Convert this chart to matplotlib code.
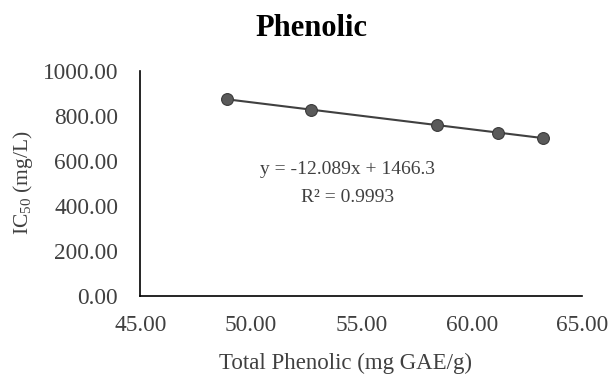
import numpy as np
import matplotlib
matplotlib.use("Agg")
import matplotlib.pyplot as plt

plt.rcParams['font.family'] = ['Liberation Serif', 'DejaVu Serif']
plt.rcParams['mathtext.fontset'] = 'custom'
plt.rcParams['mathtext.rm'] = 'Liberation Serif'
plt.rcParams['mathtext.it'] = 'Liberation Serif:italic'

# === data ===
phenolic = [48.9, 52.7, 58.4, 61.2, 63.2]      # mg GAE/g
ic50 = [877, 829, 761, 727, 702]               # mg/L
slope, intercept = -12.089, 1466.3
r2 = 0.9993
xticks = [45, 50, 55, 60, 65]
yticks = [0, 200, 400, 600, 800, 1000]

fig = plt.figure(figsize=(6.08, 3.81), dpi=100)
ax = fig.add_axes([0.231, 0.224, 0.727, 0.589])

# trendline over the data range
xt = np.array([min(phenolic), max(phenolic)])
ax.plot(xt, slope * xt + intercept, color="#404040", linewidth=1.5, zorder=2)
ax.plot(phenolic, ic50, linestyle="none", marker="o", markersize=8.5,
        markerfacecolor="#5a5a5a", markeredgecolor="#3a3a3a",
        markeredgewidth=0.8, zorder=3)

ax.set_xlim(45, 65)
ax.set_ylim(0, 1000)
ax.set_xticks(xticks)
ax.set_yticks(yticks)
ax.set_xticklabels([f"{v:.2f}" for v in xticks])
ax.set_yticklabels([f"{v:.2f}" for v in yticks])
ax.tick_params(length=0, labelsize=16.8, colors="#404040")
ax.tick_params(axis='y', pad=16)
ax.tick_params(axis='x', pad=14)

for s in ("top", "right"):
    ax.spines[s].set_visible(False)
for s in ("left", "bottom"):
    ax.spines[s].set_color("#000000")
    ax.spines[s].set_linewidth(1.2)

ax.text(0.469, 0.50, f"y = {slope}x + {intercept}\nR² = {r2}",
        transform=ax.transAxes, ha="center", va="center",
        fontsize=14, color="#404040", linespacing=1.8)

fig.text(0.513, 0.925, "Phenolic", ha="center", va="center",
         fontsize=22, fontweight="bold", color="#000000")
fig.text(0.568, 0.046, "Total Phenolic (mg GAE/g)", ha="center", va="center",
         fontsize=16.5, color="#404040")
fig.text(0.038, 0.52, r"IC$_{50}$ (mg/L)", ha="center", va="center",
         rotation=90, fontsize=15.5, color="#404040")

fig.savefig("out.png", dpi=100)
